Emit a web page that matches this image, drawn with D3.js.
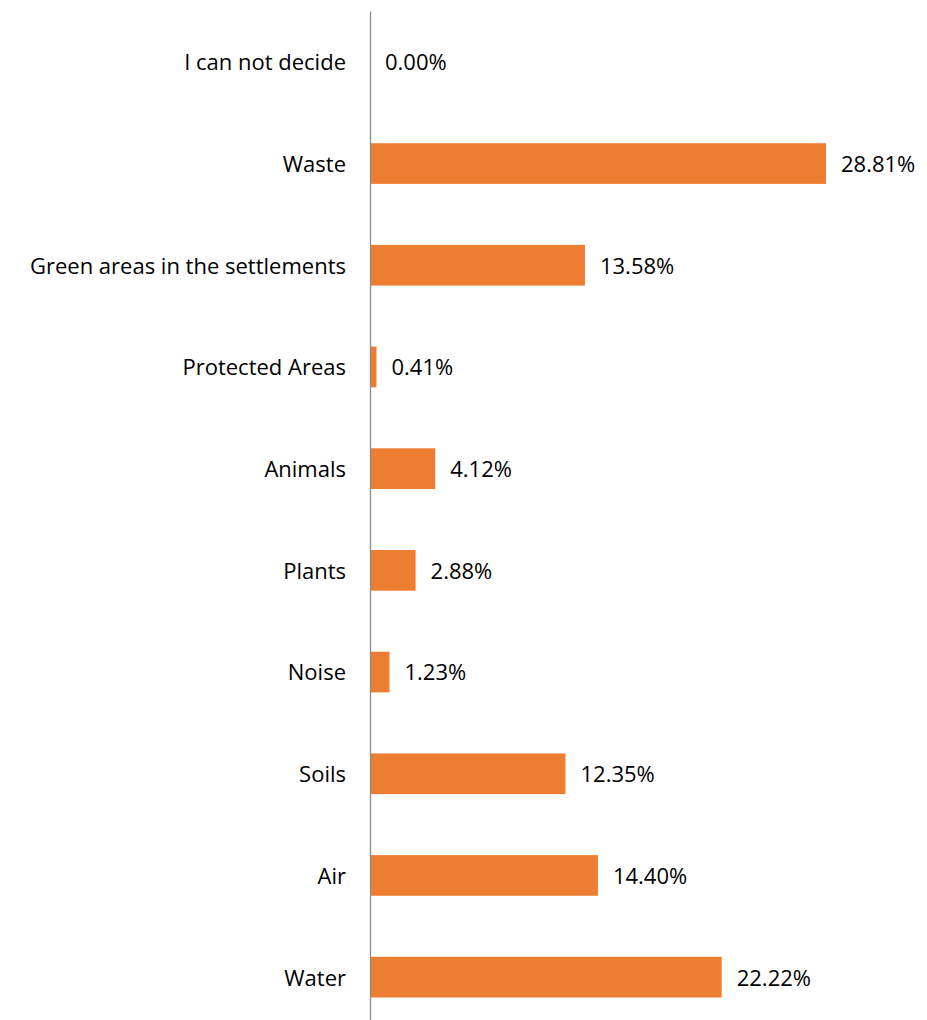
<!DOCTYPE html>
<html>
<head>
<meta charset="utf-8">
<script src="https://d3js.org/d3.v7.min.js"></script>
<style>
  body { margin: 0; background: #fff; }
  text { font-family: "Open Sans", sans-serif; fill: #000; }
</style>
</head>
<body>
<svg id="svg" width="927" height="1020"></svg>
<script>

// categories top to bottom and their shares (%)
var categories = ["I can not decide", "Waste", "Green areas in the settlements", "Protected Areas",
  "Animals", "Plants", "Noise", "Soils", "Air", "Water"];
var values = [0.00, 28.81, 13.58, 0.41, 4.12, 2.88, 1.23, 12.35, 14.40, 22.22];
var valueLabels = ["0.00%", "28.81%", "13.58%", "0.41%", "4.12%", "2.88%", "1.23%", "12.35%", "14.40%", "22.22%"];

var data = categories.map(function (c, i) {
  return { name: c, value: values[i], label: valueLabels[i] };
});

var svg = d3.select("#svg");
var margin = { top: 11, left: 370, right: 0, bottom: 0 };

var x = d3.scaleLinear()
  .domain([0, 28.81])
  .range([margin.left, 826]);

var y = d3.scaleBand()
  .domain(categories)
  .range([margin.top, 1028])
  .paddingInner(0.6)
  .paddingOuter(0.3);

// bars
svg.append("g")
  .selectAll("rect")
  .data(data)
  .enter()
  .append("rect")
    .attr("x", x(0))
    .attr("y", function (d) { return y(d.name); })
    .attr("width", function (d) { return x(d.value) - x(0); })
    .attr("height", y.bandwidth())
    .attr("fill", "#ED7D31");

// value labels
svg.append("g")
  .selectAll("text")
  .data(data)
  .enter()
  .append("text")
    .attr("x", function (d) { return x(d.value) + 15; })
    .attr("y", function (d) { return y(d.name) + y.bandwidth() / 2; })
    .attr("dy", "0.38em")
    .style("font-size", "22px")
    .text(function (d) { return d.label; });

// category axis
var axis = svg.append("g")
  .attr("transform", "translate(" + x(0) + ",0)")
  .call(d3.axisLeft(y).tickSize(0).tickPadding(24));

axis.select(".domain")
  .attr("stroke", "#8c8c8c")
  .attr("stroke-width", 1.3);

axis.selectAll("text")
  .attr("dy", "0.38em")
  .style("font-size", "22px")
  .style("font-family", "'Open Sans', sans-serif")
  .attr("fill", "#000");

</script>
</body>
</html>
